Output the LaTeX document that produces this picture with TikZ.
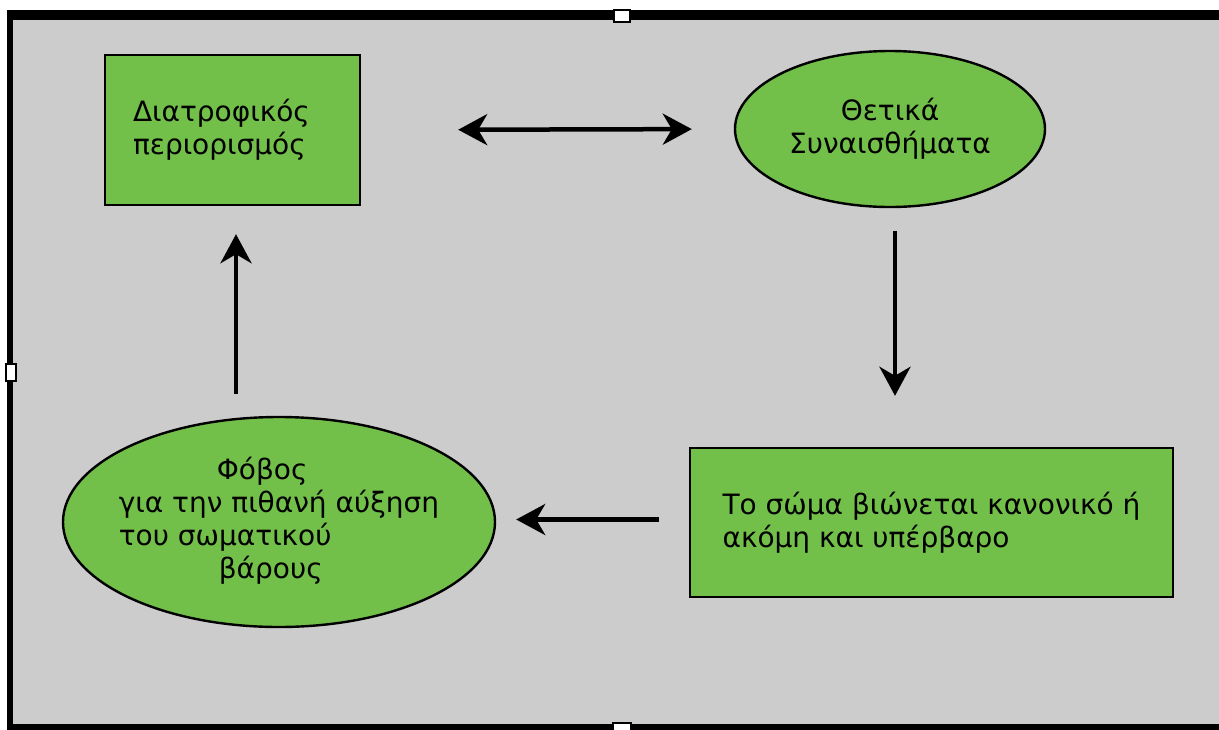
\documentclass[tikz,border=0pt]{standalone}
\usepackage{fontspec}
\setmainfont{DejaVu Sans}
\usetikzlibrary{arrows.meta,shapes.geometric}
\definecolor{panelgrey}{RGB}{204,204,204}
\definecolor{leafgreen}{RGB}{114,192,74}
\begin{document}
\begin{tikzpicture}[x=1pt,y=-1pt,
  every node/.style={font=\fontsize{28}{33}\selectfont},
  greenbox/.style={draw=black, line width=2.4pt, fill=leafgreen, rectangle, inner ysep=0pt},
  greenoval/.style={draw=black, line width=2.4pt, fill=leafgreen, ellipse, inner sep=0pt},
  flowline/.style={line width=4.5pt},
  >={Stealth[length=29pt,width=31pt,inset=9pt]},
  handle/.style={fill=white, draw=black, line width=1.5pt},
 ]
\useasboundingbox (0,0) rectangle (1219,729);
\fill[white] (0,0) rectangle (1219,729);

% grey panel with its frame
\fill[panelgrey] (10,15) rectangle (1219,726);
\draw[line width=10pt] (7,15) -- (1219,15);
\draw[line width=6pt] (10,10) -- (10,729);
\draw[line width=6pt] (7,726.5) -- (1219,726.5);

% resize handles on the frame
\draw[handle] (614,10) rectangle (630,22);
\draw[handle] (6,364) rectangle (16,381);
\draw[handle] (613,723) rectangle (631,731);

% the four stages of the cycle
\node[greenbox, minimum width=255pt, minimum height=150pt, text width=199pt,
      inner xsep=28pt, align=left] (r1) at (232.5,130)
  {Διατροφικός\\περιορισμός};
\node[greenoval, minimum width=310pt, minimum height=156pt, align=center] (e1) at (890,129)
  {Θετικά\\Συναισθήματα};
\node[greenbox, minimum width=483pt, minimum height=149pt, align=left] (r2) at (931.5,522.5)
  {Το σώμα βιώνεται κανονικό ή\\ακόμη και υπέρβαρο};
\node[greenoval, minimum width=432pt, minimum height=210pt] (e2) at (279,522)
  {\makebox[120pt][c]{\begin{tabular}{@{}l@{}}\hspace*{98pt}Φόβος\\για την πιθανή αύξηση\\του σωματικού\\\hspace*{100pt}βάρους\end{tabular}}};

% connectors
\draw[flowline, <->, shorten <=97pt, shorten >=42pt] (r1.east) -- (e1.west);
\draw[flowline, ->, shorten <=23pt, shorten >=51pt]
  ([xshift=5pt]e1.south) -- ([xshift=5pt]e1.south |- r2.north);
\draw[flowline, ->, shorten <=30pt, shorten >=20pt]
  ([yshift=3pt]r2.west) -- ([yshift=3pt]r2.west -| e2.east);
\draw[flowline, ->, shorten <=22pt, shorten >=28pt]
  ([xshift=3.5pt]r1.south |- e2.north) -- ([xshift=3.5pt]r1.south);
\end{tikzpicture}
\end{document}
